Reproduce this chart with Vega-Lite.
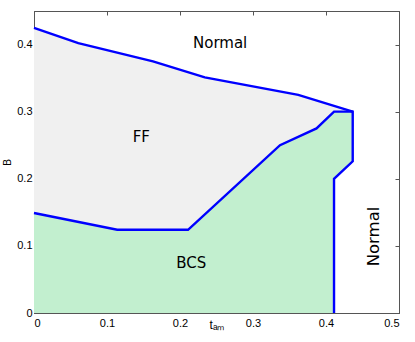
{
  "$schema": "https://vega.github.io/schema/vega-lite/v6.json",
  "width": 365,
  "height": 302,
  "autosize": "none",
  "padding": {"left": 34, "top": 11, "right": 16, "bottom": 29},
  "background": "white",
  "config": {
    "view": {"stroke": "#555555", "strokeWidth": 1},
    "axis": {
      "grid": false,
      "domainColor": "#555555",
      "tickColor": "#555555",
      "tickSize": -4,
      "labelFont": "Liberation Sans",
      "labelFontSize": 11,
      "labelColor": "black",
      "titleFont": "Liberation Sans",
      "titleFontWeight": "normal",
      "titleColor": "black",
      "format": ".1~f"
    }
  },
  "datasets": {
    "ff": [
      {"i": 1, "x": 0, "y": 0.425},
      {"i": 2, "x": 0.0607, "y": 0.402},
      {"i": 3, "x": 0.163, "y": 0.375},
      {"i": 4, "x": 0.234, "y": 0.351},
      {"i": 5, "x": 0.362, "y": 0.325},
      {"i": 6, "x": 0.4366, "y": 0.300},
      {"i": 7, "x": 0.411, "y": 0.300},
      {"i": 8, "x": 0.387, "y": 0.275},
      {"i": 9, "x": 0.337, "y": 0.250},
      {"i": 10, "x": 0.211, "y": 0.124},
      {"i": 11, "x": 0.114, "y": 0.124},
      {"i": 12, "x": 0, "y": 0.149}
    ],
    "bcs": [
      {"i": 1, "x": 0, "y": 0},
      {"i": 2, "x": 0, "y": 0.149},
      {"i": 3, "x": 0.114, "y": 0.124},
      {"i": 4, "x": 0.211, "y": 0.124},
      {"i": 5, "x": 0.337, "y": 0.250},
      {"i": 6, "x": 0.387, "y": 0.275},
      {"i": 7, "x": 0.411, "y": 0.300},
      {"i": 8, "x": 0.4366, "y": 0.300},
      {"i": 9, "x": 0.4366, "y": 0.226},
      {"i": 10, "x": 0.411, "y": 0.200},
      {"i": 11, "x": 0.411, "y": 0}
    ],
    "lines": [
      {"line": "upper", "i": 1, "x": 0, "y": 0.425},
      {"line": "upper", "i": 2, "x": 0.0607, "y": 0.402},
      {"line": "upper", "i": 3, "x": 0.163, "y": 0.375},
      {"line": "upper", "i": 4, "x": 0.234, "y": 0.351},
      {"line": "upper", "i": 5, "x": 0.362, "y": 0.325},
      {"line": "upper", "i": 6, "x": 0.4366, "y": 0.300},
      {"line": "lower", "i": 1, "x": 0, "y": 0.149},
      {"line": "lower", "i": 2, "x": 0.114, "y": 0.124},
      {"line": "lower", "i": 3, "x": 0.211, "y": 0.124},
      {"line": "lower", "i": 4, "x": 0.337, "y": 0.250},
      {"line": "lower", "i": 5, "x": 0.387, "y": 0.275},
      {"line": "lower", "i": 6, "x": 0.411, "y": 0.300},
      {"line": "lower", "i": 7, "x": 0.4366, "y": 0.300},
      {"line": "lower", "i": 8, "x": 0.4366, "y": 0.226},
      {"line": "lower", "i": 9, "x": 0.411, "y": 0.200},
      {"line": "lower", "i": 10, "x": 0.411, "y": 0}
    ],
    "labels": [
      {"x": 0.255, "y": 0.4025, "text": "Normal", "kind": "flat"},
      {"x": 0.147, "y": 0.262, "text": "FF", "kind": "flat"},
      {"x": 0.2155, "y": 0.074, "text": "BCS", "kind": "flat"},
      {"x": 0.466, "y": 0.114, "text": "Normal", "kind": "rotated"}
    ]
  },
  "resolve": {"axis": {"x": "independent", "y": "independent"}},
  "layer": [
    {
      "data": {"name": "ff"},
      "mark": {"type": "line", "fill": "#f0f0f0", "strokeWidth": 0, "stroke": null},
      "encoding": {
        "x": {"field": "x", "type": "quantitative", "scale": {"domain": [0, 0.5], "nice": false},
          "axis": {"orient": "bottom", "values": [0, 0.1, 0.2, 0.3, 0.4, 0.5], "title": "tₐₘ", "titleFontSize": 12, "titlePadding": -9, "labelPadding": 8}},
        "y": {"field": "y", "type": "quantitative", "scale": {"domain": [0, 0.45], "nice": false, "zero": false},
          "axis": {"orient": "left", "values": [0, 0.1, 0.2, 0.3, 0.4], "title": "B", "titleFontSize": 10, "titlePadding": 4, "labelPadding": 6}},
        "order": {"field": "i", "type": "quantitative"}
      }
    },
    {
      "data": {"name": "bcs"},
      "mark": {"type": "line", "fill": "#c2efcf", "strokeWidth": 0, "stroke": null},
      "encoding": {
        "x": {"field": "x", "type": "quantitative",
          "axis": {"orient": "top", "values": [0, 0.1, 0.2, 0.3, 0.4, 0.5], "labels": false, "title": null}},
        "y": {"field": "y", "type": "quantitative",
          "axis": {"orient": "right", "values": [0, 0.1, 0.2, 0.3, 0.4], "labels": false, "title": null}},
        "order": {"field": "i", "type": "quantitative"}
      }
    },
    {
      "data": {"name": "lines"},
      "mark": {"type": "line", "stroke": "#0000ff", "strokeWidth": 2.4},
      "encoding": {
        "x": {"field": "x", "type": "quantitative", "axis": null},
        "y": {"field": "y", "type": "quantitative", "axis": null},
        "detail": {"field": "line"},
        "order": {"field": "i", "type": "quantitative"}
      }
    },
    {
      "data": {"name": "labels"},
      "transform": [{"filter": "datum.kind === 'flat'"}],
      "mark": {"type": "text", "font": "DejaVu Sans", "fontSize": 15, "color": "black", "align": "center", "baseline": "middle"},
      "encoding": {
        "x": {"field": "x", "type": "quantitative", "axis": null},
        "y": {"field": "y", "type": "quantitative", "axis": null},
        "text": {"field": "text"}
      }
    },
    {
      "data": {"name": "labels"},
      "transform": [{"filter": "datum.kind === 'rotated'"}],
      "mark": {"type": "text", "font": "DejaVu Sans", "fontSize": 16.5, "color": "black", "align": "center", "baseline": "middle", "angle": 270},
      "encoding": {
        "x": {"field": "x", "type": "quantitative", "axis": null},
        "y": {"field": "y", "type": "quantitative", "axis": null},
        "text": {"field": "text"}
      }
    }
  ]
}
